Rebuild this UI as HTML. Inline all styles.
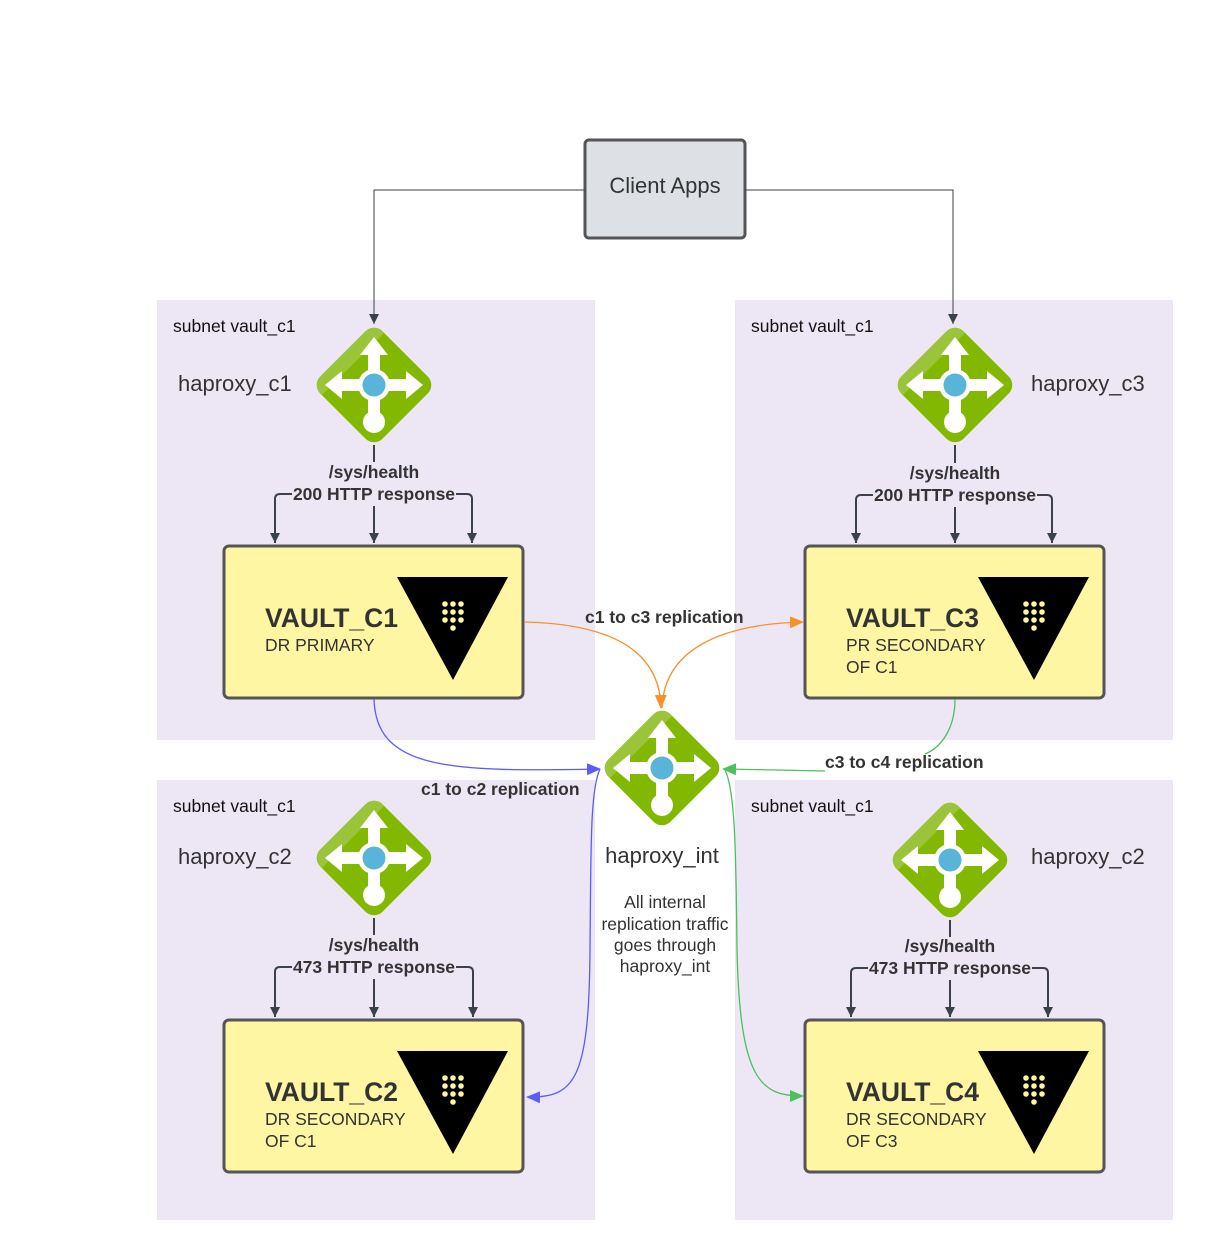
<!DOCTYPE html>
<html><head><meta charset="utf-8"><style>
html,body{margin:0;padding:0;background:#fff;}
svg{display:block;font-family:"Liberation Sans",sans-serif;}
</style></head><body>
<svg width="1214" height="1260" viewBox="0 0 1214 1260" xmlns="http://www.w3.org/2000/svg">
<defs>
<clipPath id="dc"><rect x="-44" y="-44" width="88" height="88" rx="12" transform="rotate(45)"/></clipPath>
<g id="hp">
  <rect x="-44" y="-44" width="88" height="88" rx="12" fill="#82b900" transform="rotate(45)"/>
  <path d="M-70,0 L0,-70 L14,-56 L-56,14 Z" fill="#9ac53a" clip-path="url(#dc)"/>
  <rect x="-6" y="-34" width="12" height="70" fill="#fff"/>
  <polygon points="-14,-30 14,-30 0,-48" fill="#fff"/>
  <rect x="-36" y="-6" width="72" height="12" fill="#fff"/>
  <polygon points="-32,-14 -32,14 -49,0" fill="#fff"/>
  <polygon points="32,-14 32,14 49,0" fill="#fff"/>
  <circle cx="0" cy="0" r="16" fill="#fff"/>
  <circle cx="0" cy="0" r="11.5" fill="#59b4d9"/>
  <circle cx="0" cy="37" r="11" fill="#fff"/>
</g>
<g id="vl">
  <polygon points="0,0 111,0 56,103" fill="#000"/>
  <g fill="#fff59d">
    <circle cx="48" cy="27" r="2.8"/><circle cx="56" cy="27" r="2.8"/><circle cx="64" cy="27" r="2.8"/>
    <circle cx="48" cy="35" r="2.8"/><circle cx="56" cy="35" r="2.8"/><circle cx="64" cy="35" r="2.8"/>
    <circle cx="48" cy="43" r="2.8"/><circle cx="56" cy="43" r="2.8"/><circle cx="64" cy="43" r="2.8"/>
    <circle cx="56" cy="51" r="2.8"/>
  </g>
</g>
<marker id="ad" markerWidth="12" markerHeight="12" refX="10" refY="6" orient="auto" markerUnits="userSpaceOnUse"><path d="M0,1 L10,6 L0,11 Z" fill="#3a414a"/></marker>
<marker id="ao" markerWidth="14" markerHeight="12" refX="13" refY="6" orient="auto" markerUnits="userSpaceOnUse"><path d="M0,0 L14,6 L0,12 Z" fill="#f7912c"/></marker>
<marker id="ab" markerWidth="14" markerHeight="12" refX="13" refY="6" orient="auto" markerUnits="userSpaceOnUse"><path d="M0,0 L14,6 L0,12 Z" fill="#5b5bff"/></marker>
<marker id="ag" markerWidth="14" markerHeight="12" refX="13" refY="6" orient="auto" markerUnits="userSpaceOnUse"><path d="M0,0 L14,6 L0,12 Z" fill="#4cc05a"/></marker>
</defs>

<rect x="157" y="300" width="438" height="440" fill="#ede7f5"/>
<rect x="735" y="300" width="438" height="440" fill="#ede7f5"/>
<rect x="157" y="780" width="438" height="440" fill="#ede7f5"/>
<rect x="735" y="780" width="438" height="440" fill="#ede7f5"/>
<g font-size="17.5" fill="#111">
<text x="173" y="332">subnet vault_c1</text>
<text x="751" y="332">subnet vault_c1</text>
<text x="173" y="812">subnet vault_c1</text>
<text x="751" y="812">subnet vault_c1</text>
</g>

<rect x="585" y="140" width="160" height="98" rx="4" fill="#dde1e6" stroke="#555" stroke-width="3"/>
<text x="665" y="193" font-size="22" fill="#333" text-anchor="middle">Client Apps</text>
<path d="M585,190 H374 V324" fill="none" stroke="#3a414a" stroke-width="1" marker-end="url(#ad)"/>
<path d="M745,190 H953 V324" fill="none" stroke="#3a414a" stroke-width="1" marker-end="url(#ad)"/>

<use href="#hp" x="374" y="385"/>
<use href="#hp" x="955" y="385"/>
<use href="#hp" x="374" y="858"/>
<use href="#hp" x="950" y="860"/>
<use href="#hp" x="662" y="768"/>
<g font-size="22" fill="#333">
<text x="178" y="391">haproxy_c1</text>
<text x="1031" y="391">haproxy_c3</text>
<text x="178" y="864">haproxy_c2</text>
<text x="1031" y="864">haproxy_c2</text>
<text x="662" y="863" text-anchor="middle">haproxy_int</text>
</g>
<g font-size="17.5" fill="#333" text-anchor="middle">
<text x="665" y="908">All internal</text>
<text x="665" y="930">replication traffic</text>
<text x="665" y="951">goes through</text>
<text x="665" y="972">haproxy_int</text>
</g>

<g fill="none" stroke="#3a414a" stroke-width="2">
<path d="M374,445 V462"/><path d="M374,506 V543" marker-end="url(#ad)"/>
<path d="M292,494 H280 Q275,494 275,499 V543" marker-end="url(#ad)"/>
<path d="M456,494 H467 Q472,494 472,499 V543" marker-end="url(#ad)"/>
<path d="M955,445 V463"/><path d="M955,507 V543" marker-end="url(#ad)"/>
<path d="M873,495 H861 Q856,495 856,500 V543" marker-end="url(#ad)"/>
<path d="M1037,495 H1047 Q1052,495 1052,500 V543" marker-end="url(#ad)"/>
<path d="M374,918 V935"/><path d="M374,979 V1017" marker-end="url(#ad)"/>
<path d="M292,967 H280 Q275,967 275,972 V1017" marker-end="url(#ad)"/>
<path d="M456,967 H468 Q473,967 473,972 V1017" marker-end="url(#ad)"/>
<path d="M950,920 V937"/><path d="M950,980 V1017" marker-end="url(#ad)"/>
<path d="M868,968 H856 Q851,968 851,973 V1017" marker-end="url(#ad)"/>
<path d="M1032,968 H1043 Q1048,968 1048,973 V1017" marker-end="url(#ad)"/>
</g>
<g font-size="17.5" font-weight="bold" fill="#333" text-anchor="middle">
<text x="374" y="478">/sys/health</text><text x="374" y="500">200 HTTP response</text>
<text x="955" y="479">/sys/health</text><text x="955" y="501">200 HTTP response</text>
<text x="374" y="951">/sys/health</text><text x="374" y="973">473 HTTP response</text>
<text x="950" y="952">/sys/health</text><text x="950" y="974">473 HTTP response</text>
</g>

<g stroke="#555" stroke-width="3" fill="#fff6a3">
<rect x="224" y="546" width="299" height="152" rx="5"/>
<rect x="805" y="546" width="299" height="152" rx="5"/>
<rect x="224" y="1020" width="299" height="152" rx="5"/>
<rect x="805" y="1020" width="299" height="152" rx="5"/>
</g>
<use href="#vl" x="397" y="577"/>
<use href="#vl" x="978" y="577"/>
<use href="#vl" x="397" y="1051"/>
<use href="#vl" x="978" y="1051"/>
<g fill="#333">
<text x="265" y="627" font-size="26.5" font-weight="bold">VAULT_C1</text>
<text x="265" y="651" font-size="17.5">DR PRIMARY</text>
<text x="846" y="627" font-size="26.5" font-weight="bold">VAULT_C3</text>
<text x="846" y="651" font-size="17.5">PR SECONDARY</text>
<text x="846" y="673" font-size="17.5">OF C1</text>
<text x="265" y="1101" font-size="26.5" font-weight="bold">VAULT_C2</text>
<text x="265" y="1125" font-size="17.5">DR SECONDARY</text>
<text x="265" y="1147" font-size="17.5">OF C1</text>
<text x="846" y="1101" font-size="26.5" font-weight="bold">VAULT_C4</text>
<text x="846" y="1125" font-size="17.5">DR SECONDARY</text>
<text x="846" y="1147" font-size="17.5">OF C3</text>
</g>

<g fill="none" stroke-width="1.3">
<path d="M525,622 C610,624 660,650 661,708" stroke="#f7912c" marker-end="url(#ao)"/>
<path d="M662,708 C664,650 720,624 803,622" stroke="#f7912c" marker-end="url(#ao)"/>
<path d="M374,699 C376,770 450,772 600,769" stroke="#5b5bff" marker-end="url(#ab)"/>
<path d="M600,769 C590,790 591,850 590,950 C589,1080 575,1098 527,1097" stroke="#5b5bff" marker-end="url(#ab)"/>
<path d="M955,699 C955,730 940,748 925,754" stroke="#4cc05a"/>
<path d="M825,771 L723,769" stroke="#4cc05a" marker-end="url(#ag)"/>
<path d="M725,770 C735,790 736,850 737,950 C740,1080 760,1096 803,1096" stroke="#4cc05a" marker-end="url(#ag)"/>
</g>
<g font-size="17.5" font-weight="bold" fill="#333">
<text x="585" y="623">c1 to c3 replication</text>
<text x="421" y="795">c1 to c2 replication</text>
<text x="825" y="768">c3 to c4 replication</text>
</g>
</svg>
</body></html>
